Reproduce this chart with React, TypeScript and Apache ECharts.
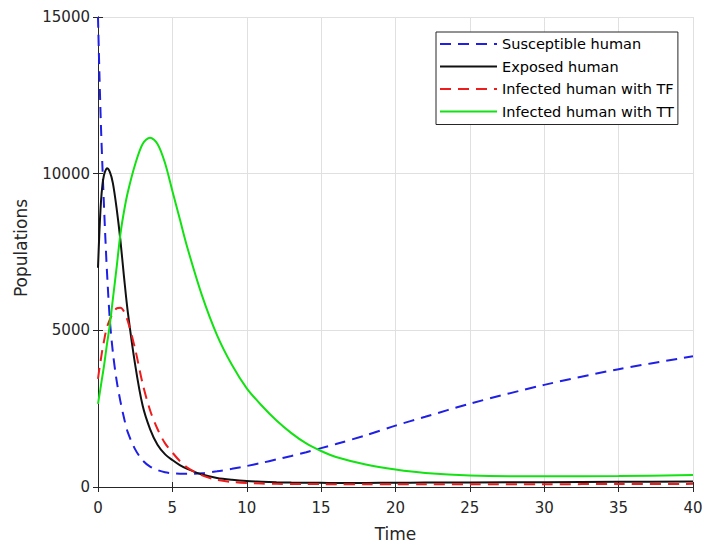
import React, { useEffect, useRef } from "react";
import * as echarts from "echarts";

const timePoints = [0, 0.1, 0.2, 0.3, 0.4, 0.5, 0.6, 0.8, 1, 1.25, 1.5, 1.75, 2, 2.5, 3, 3.5, 4, 4.5, 5, 5.5, 6, 7, 8, 9, 10, 11, 12, 13, 14, 15, 16, 18, 20, 22, 25, 30, 35, 40];

const susceptible = [15000, 13100, 11500, 10200, 9000, 7900, 6900, 5300, 4300, 3400, 2750, 2200, 1750, 1200, 850, 650, 540, 470, 440, 425, 420, 440, 500, 580, 670, 770, 880, 990, 1110, 1240, 1370, 1650, 1960, 2240, 2660, 3260, 3760, 4170];

const exposed = [7000, 8200, 9100, 9650, 9950, 10100, 10170, 10050, 9700, 8900, 7900, 6700, 5600, 3900, 2600, 1850, 1350, 1050, 860, 700, 580, 400, 290, 230, 190, 170, 150, 140, 135, 132, 130, 130, 135, 140, 145, 155, 165, 175];

const infectedTF = [3450, 3800, 4100, 4400, 4650, 4900, 5100, 5350, 5550, 5700, 5720, 5600, 5300, 4400, 3300, 2450, 1850, 1400, 1100, 830, 620, 370, 230, 160, 125, 110, 100, 97, 95, 92, 90, 90, 90, 90, 90, 90, 95, 100];

const infectedTT = [2650, 2950, 3250, 3550, 3850, 4200, 4550, 5200, 6000, 7000, 8050, 8800, 9400, 10300, 10950, 11150, 10950, 10350, 9450, 8550, 7650, 6100, 4850, 3900, 3150, 2600, 2120, 1720, 1390, 1150, 960, 720, 560, 450, 370, 340, 350, 380];

const seriesNames = ["Susceptible human", "Exposed human", "Infected human with TF", "Infected human with TT"];
const xTicks = { min: 0, max: 40, interval: 5 };
const yTicks = { min: 0, max: 15000, interval: 5000 };

const FONT = "'DejaVu Sans', Verdana, sans-serif";
const AXIS_COLOR = "#262626";

function pairs(values: number[]) {
  return timePoints.map((t, i) => [t, values[i]]);
}

export default function App() {
  const ref = useRef<HTMLDivElement>(null);
  useEffect(() => {
    document.body.style.margin = "0";
    const chart = echarts.init(ref.current!, null, { renderer: "svg" });
    const baseAxis = {
      type: "value" as const,
      axisLine: { show: true, lineStyle: { color: AXIS_COLOR, width: 1 } },
      axisTick: { show: true, inside: true, length: 5, lineStyle: { color: AXIS_COLOR } },
    };
    const lineSeries = (name: string, data: number[], color: string, dashed: boolean) => ({
      name,
      type: "line",
      data: pairs(data),
      symbol: "none",
      showSymbol: false,
      smooth: 0.3,
      lineStyle: { color, width: 2, type: dashed ? [11, 7] : "solid" },
      itemStyle: { color },
    });
    chart.setOption({
      animation: false,
      backgroundColor: "#ffffff",
      textStyle: { fontFamily: FONT },
      grid: { left: 98, top: 17, width: 595, height: 470, containLabel: false },
      legend: {
        data: seriesNames,
        orient: "vertical",
        left: 436,
        top: 32,
        itemWidth: 57,
        itemHeight: 14,
        itemGap: 4.5,
        padding: [3, 4, 4, 3],
        borderColor: AXIS_COLOR,
        borderWidth: 1,
        backgroundColor: "#ffffff",
        itemStyle: { opacity: 0, borderWidth: 0 },
        textStyle: { fontSize: 14.5, color: "#000000", fontFamily: FONT, lineHeight: 18 },
      },
      xAxis: [
        {
          ...baseAxis,
          ...xTicks,
          position: "bottom",
          name: "Time",
          nameLocation: "middle",
          nameGap: 38,
          nameTextStyle: { fontSize: 17, color: AXIS_COLOR, fontFamily: FONT },
          axisLabel: { fontSize: 15, color: AXIS_COLOR, margin: 13, fontFamily: FONT, formatter: (v: number) => String(v) },
          splitLine: { show: true, lineStyle: { color: "#e0e0e0", width: 1 } },
        },
        {
          ...baseAxis,
          ...xTicks,
          position: "top",
          axisLabel: { show: false },
          splitLine: { show: false },
        },
      ],
      yAxis: [
        {
          ...baseAxis,
          ...yTicks,
          position: "left",
          name: "Populations",
          nameLocation: "middle",
          nameGap: 69,
          nameTextStyle: { fontSize: 17, color: AXIS_COLOR, fontFamily: FONT, padding: [0, 0, 0, 8] },
          axisLabel: { fontSize: 15, color: AXIS_COLOR, margin: 8, fontFamily: FONT, formatter: (v: number) => String(v) },
          splitLine: { show: true, lineStyle: { color: "#e0e0e0", width: 1 } },
        },
        {
          ...baseAxis,
          ...yTicks,
          position: "right",
          axisLabel: { show: false },
          splitLine: { show: false },
        },
      ],
      series: [
        lineSeries(seriesNames[0], susceptible, "#1f1fe6", true),
        lineSeries(seriesNames[1], exposed, "#111111", false),
        lineSeries(seriesNames[2], infectedTF, "#ee1c1c", true),
        lineSeries(seriesNames[3], infectedTT, "#12e212", false),
      ],
    });
    return () => chart.dispose();
  }, []);
  return <div ref={ref} style={{ width: 708, height: 547 }} />;
}
